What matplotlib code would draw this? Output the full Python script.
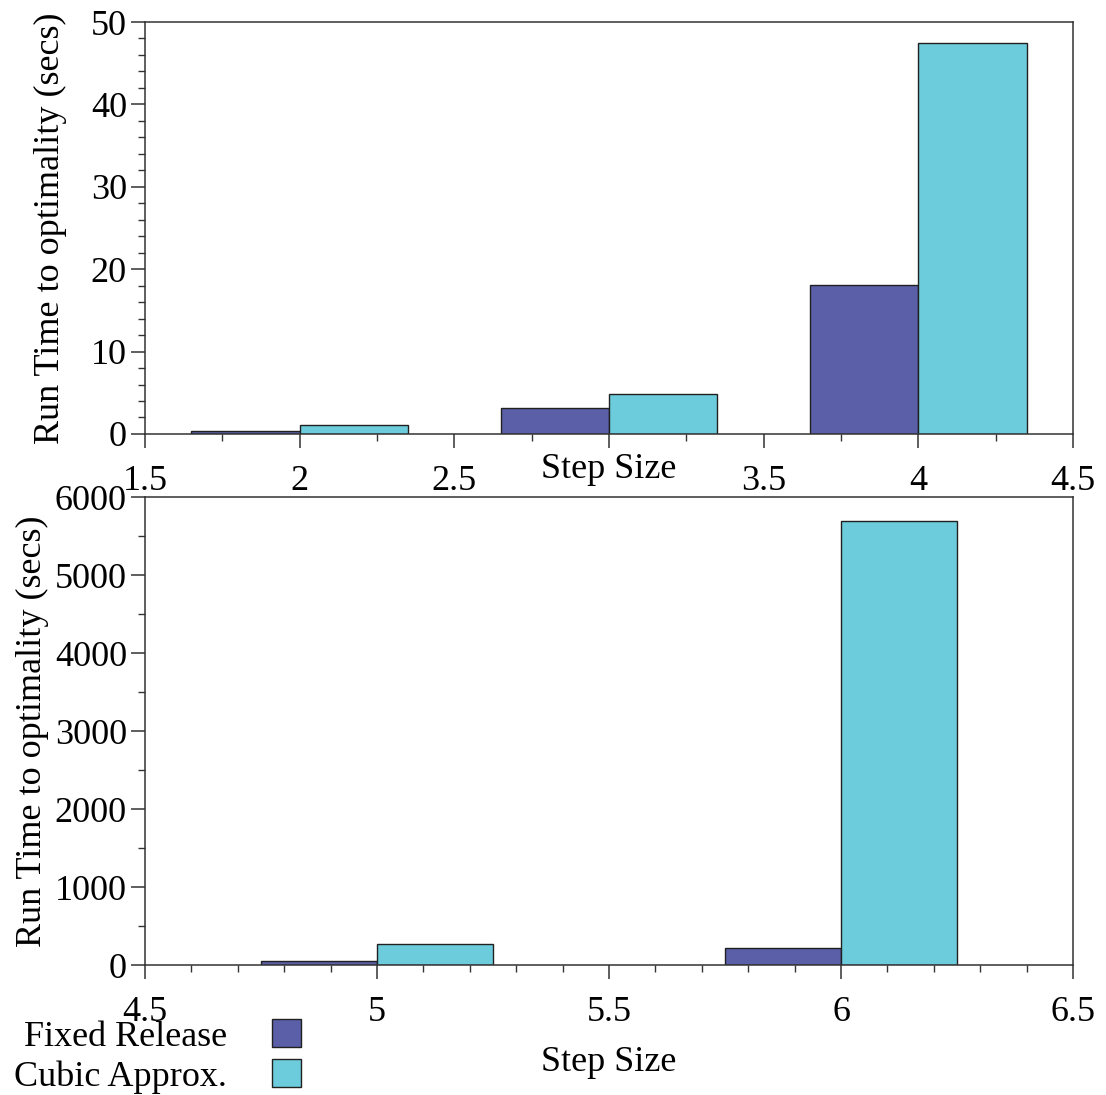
import matplotlib
matplotlib.use('Agg')
import matplotlib.pyplot as plt
from matplotlib.patches import Patch
from matplotlib.ticker import MultipleLocator

# data
steps_top = [2, 3, 4]
fixed_top = [0.3, 3.1, 18.1]
cubic_top = [1.05, 4.9, 47.4]

steps_bot = [5, 6]
fixed_bot = [50, 215]
cubic_bot = [265, 5695]

labels = ['Fixed Release', 'Cubic Approx.']
col_fixed = '#5a5fa8'
col_cubic = '#6dccdb'

plt.rcParams['font.family'] = ['Liberation Serif', 'DejaVu Serif']
fs = 26

fig = plt.figure(figsize=(11.06, 10.95), dpi=100)
ax1 = fig.add_axes([0.1311, 0.6037, 0.8391, 0.3762])
ax2 = fig.add_axes([0.1311, 0.1187, 0.8391, 0.4274])

ax1.bar(steps_top, fixed_top, width=-0.35, align='edge', color=col_fixed, edgecolor='#202020', linewidth=1)
ax1.bar(steps_top, cubic_top, width=0.35, align='edge', color=col_cubic, edgecolor='#202020', linewidth=1)
ax1.set_xlim(1.5, 4.5)
ax1.set_ylim(0, 50)
ax1.xaxis.set_minor_locator(MultipleLocator(0.25))
ax1.yaxis.set_major_locator(MultipleLocator(10))
ax1.yaxis.set_minor_locator(MultipleLocator(2))
ax1.set_xticks([1.5, 2, 2.5, 3, 3.5, 4, 4.5])
ax1.set_xticklabels(['1.5', '2', '2.5', '', '3.5', '4', '4.5'])

ax2.bar(steps_bot, fixed_bot, width=-0.25, align='edge', color=col_fixed, edgecolor='#202020', linewidth=1)
ax2.bar(steps_bot, cubic_bot, width=0.25, align='edge', color=col_cubic, edgecolor='#202020', linewidth=1)
ax2.set_xlim(4.5, 6.5)
ax2.set_ylim(0, 6000)
ax2.xaxis.set_minor_locator(MultipleLocator(0.1))
ax2.yaxis.set_major_locator(MultipleLocator(1000))
ax2.yaxis.set_minor_locator(MultipleLocator(500))
ax2.set_xticks([4.5, 5, 5.5, 6, 6.5])
ax2.set_xticklabels(['4.5', '5', '5.5', '6', '6.5'])

for ax in (ax1, ax2):
    for s in ax.spines.values():
        s.set_linewidth(1.1)
        s.set_color('#333333')
    ax.tick_params(axis='both', which='major', direction='out', length=10, width=1.1,
                   color='#333333', labelsize=fs)
    ax.tick_params(axis='both', which='minor', direction='out', length=5, width=1,
                   color='#333333')
    ax.tick_params(axis='x', which='major', pad=12)
    ax.tick_params(axis='y', which='major', pad=3)
    ax.set_ylabel('Run Time to optimality (secs)', fontsize=fs)
    ax.set_xlabel('Step Size', fontsize=fs)

ax1.yaxis.set_label_coords(-0.084, 0.5)
ax2.yaxis.set_label_coords(-0.103, 0.5)
ax1.xaxis.set_label_coords(0.5, -0.046)
ax2.xaxis.set_label_coords(0.5, -0.172)

handles = [Patch(facecolor=col_fixed, edgecolor='#202020'),
           Patch(facecolor=col_cubic, edgecolor='#202020')]
fig.legend(handles, labels, loc='upper left', bbox_to_anchor=(0.013, 0.069),
           frameon=False, markerfirst=False, fontsize=fs, handlelength=0.8,
           handleheight=0.8, handletextpad=1.25, labelspacing=0.15,
           borderpad=0, borderaxespad=0)

fig.savefig('out.png', dpi=100)
